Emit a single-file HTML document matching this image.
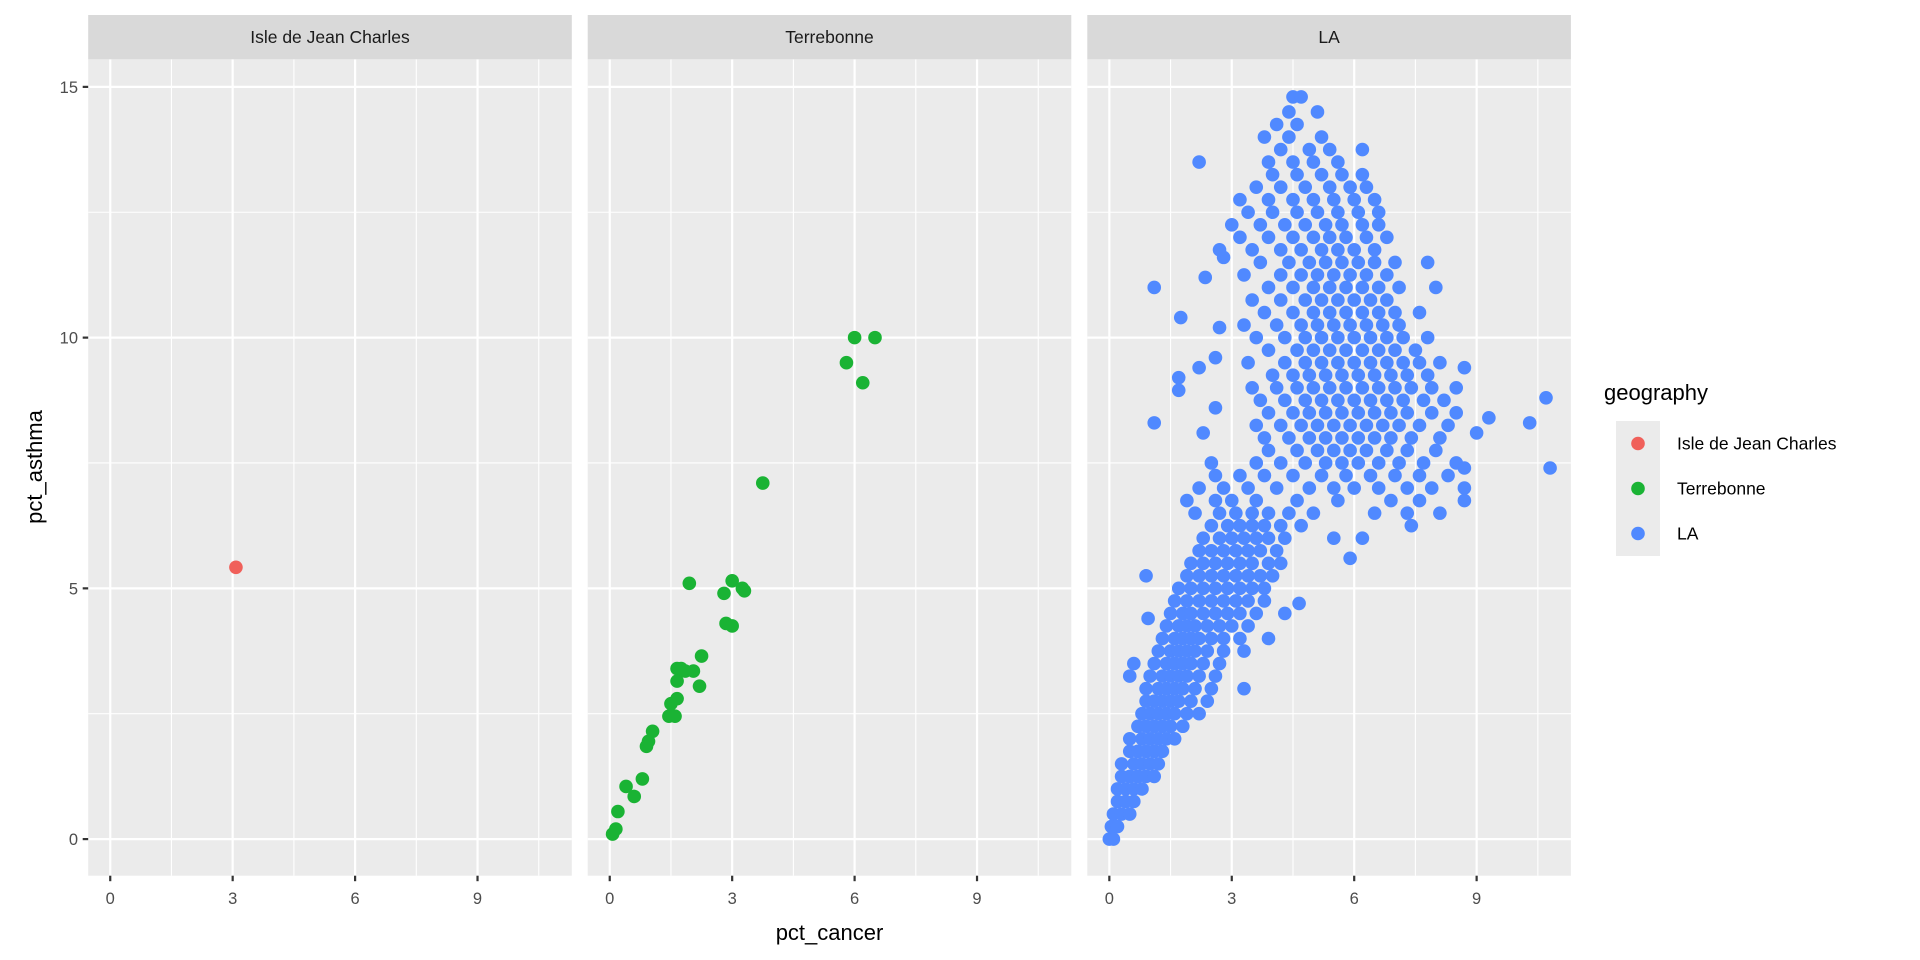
<!DOCTYPE html>
<html><head><meta charset="utf-8"><style>
body{margin:0;background:#fff;}
svg{display:block;font-family:"Liberation Sans",Arial,sans-serif;}
</style></head><body>
<svg id="chart" width="1920" height="960" viewBox="0 0 1920 960" xmlns="http://www.w3.org/2000/svg"></svg>
<script>
const facetNames = ["Isle de Jean Charles","Terrebonne","LA"];
const facetColors = ["#F0605A","#1AB334","#5089FF"];
const xTicks = [0,3,6,9];
const yTicks = [0,5,10,15];
const xMinor = [1.5,4.5,7.5,10.5];
const yMinor = [2.5,7.5,12.5];
const isleX = [3.08];
const isleY = [5.42];
const terreX = [0.07,0.15,0.2,0.4,0.6,0.8,0.9,0.95,1.05,1.45,1.5,1.6,1.65,1.65,1.65,1.75,1.85,2.05,2.2,2.25,1.95,2.8,2.85,3.0,3.0,3.25,3.3,3.75,5.8,6.0,6.2,6.5];
const terreY = [0.1,0.2,0.55,1.05,0.85,1.2,1.85,1.95,2.15,2.45,2.7,2.45,2.8,3.15,3.4,3.4,3.35,3.35,3.05,3.65,5.1,4.9,4.3,5.15,4.25,5.0,4.95,7.1,9.5,10.0,9.1,10.0];
// LA rows: [y, [x values]]
const laRows = [
[0,[0.0,0.1]],[0.25,[0.05,0.2]],[0.5,[0.1,0.3,0.5]],[0.75,[0.2,0.4,0.6]],[1.0,[0.2,0.4,0.6,0.8]],
[1.25,[0.3,0.5,0.7,0.9,1.1]],[1.5,[0.3,0.6,0.8,1.0,1.2]],[1.75,[0.5,0.7,0.9,1.1,1.3]],
[2.0,[0.5,0.8,1.0,1.2,1.4,1.6]],[2.25,[0.7,0.9,1.1,1.3,1.5,1.8]],[2.5,[0.8,1.0,1.2,1.4,1.6,1.9,2.2]],
[2.75,[0.9,1.1,1.3,1.5,1.7,2.0,2.4]],[3.0,[0.9,1.2,1.4,1.6,1.8,2.1,2.5,3.3]],[3.25,[0.5,1.0,1.3,1.5,1.7,1.9,2.2,2.6]],
[3.5,[0.6,1.1,1.4,1.6,1.8,2.0,2.3,2.7]],[3.75,[1.2,1.5,1.7,1.9,2.1,2.4,2.8,3.3]],[4.0,[1.3,1.6,1.8,2.0,2.2,2.5,2.8,3.2,3.9]],
[4.25,[1.4,1.7,1.9,2.1,2.4,2.7,3.0,3.4]],[4.4,[0.95]],[4.5,[1.5,1.8,2.0,2.3,2.6,2.9,3.2,3.6,4.3]],[4.7,[4.65]],
[4.75,[1.6,1.9,2.2,2.5,2.8,3.1,3.4,3.8]],[5.0,[1.7,2.0,2.3,2.6,2.9,3.2,3.5,3.8]],[5.25,[0.9,1.9,2.2,2.5,2.8,3.1,3.4,3.7,4.0]],
[5.5,[2.0,2.3,2.6,2.9,3.2,3.5,3.9,4.2]],[5.6,[5.9]],[5.75,[2.2,2.5,2.8,3.1,3.4,3.7,4.1]],[6.0,[2.3,2.7,3.0,3.3,3.6,3.9,4.3,5.5,6.2]],
[6.25,[2.5,2.9,3.2,3.5,3.8,4.2,4.7,7.4]],[6.5,[2.1,2.7,3.1,3.5,3.9,4.4,5.0,6.5,7.3,8.1]],[6.75,[1.9,2.6,3.0,3.6,4.6,5.6,6.9,7.6,8.7]],
[7.0,[2.2,2.8,3.4,4.1,4.9,5.5,6.0,6.6,7.3,7.9,8.7]],[7.25,[2.6,3.2,3.8,4.5,5.2,5.8,6.4,7.0,7.6,8.3]],
[7.5,[2.5,3.6,4.2,4.8,5.3,5.7,6.1,6.6,7.1,7.7,8.5]],[7.4,[8.7,10.8]],[7.75,[3.9,4.6,5.1,5.5,5.9,6.3,6.8,7.3,8.0]],
[8.0,[3.8,4.4,4.9,5.3,5.7,6.1,6.5,6.9,7.4,8.1]],[8.1,[2.3,9.0]],[8.25,[3.6,4.2,4.7,5.1,5.5,5.9,6.3,6.7,7.1,7.6,8.3]],[8.3,[1.1,10.3]],
[8.4,[9.3]],[8.5,[3.9,4.5,4.9,5.3,5.7,6.1,6.5,6.9,7.3,7.9,8.5]],[8.6,[2.6]],[8.75,[3.7,4.3,4.8,5.2,5.6,6.0,6.4,6.8,7.2,7.7,8.2]],[8.8,[10.7]],
[8.95,[1.7]],[9.0,[3.5,4.1,4.6,5.0,5.4,5.8,6.2,6.6,7.0,7.4,7.9,8.5]],[9.2,[1.7]],[9.25,[4.0,4.5,4.9,5.3,5.7,6.1,6.5,6.9,7.3,7.8]],
[9.4,[2.2,8.7]],[9.5,[3.4,4.3,4.8,5.2,5.6,6.0,6.4,6.8,7.2,7.6,8.1]],[9.6,[2.6]],[9.75,[3.9,4.6,5.0,5.4,5.8,6.2,6.6,7.0,7.5]],
[10.0,[3.6,4.3,4.8,5.2,5.6,6.0,6.4,6.8,7.2,7.8]],[10.2,[2.7]],[10.25,[3.3,4.1,4.7,5.1,5.5,5.9,6.3,6.7,7.1]],[10.4,[1.75]],
[10.5,[3.8,4.5,5.0,5.4,5.8,6.2,6.6,7.0,7.6]],[10.75,[3.5,4.2,4.8,5.2,5.6,6.0,6.4,6.8]],[11.0,[1.1,3.9,4.5,5.0,5.4,5.8,6.2,6.6,7.1,8.0]],
[11.2,[2.35]],[11.25,[3.3,4.2,4.7,5.1,5.5,5.9,6.3,6.8]],[11.5,[3.7,4.4,4.9,5.3,5.7,6.1,6.5,7.0,7.8]],[11.6,[2.8]],
[11.75,[2.7,3.5,4.2,4.7,5.2,5.6,6.0,6.5]],[12.0,[3.2,3.9,4.5,5.0,5.4,5.8,6.3,6.8]],[12.25,[3.0,3.7,4.3,4.8,5.3,5.7,6.2,6.6]],
[12.5,[3.4,4.0,4.6,5.1,5.6,6.1,6.6]],[12.75,[3.2,3.9,4.5,5.0,5.5,6.0,6.5]],[13.0,[3.6,4.2,4.8,5.4,5.9,6.3]],
[13.25,[4.0,4.6,5.2,5.7,6.2]],[13.5,[2.2,3.9,4.5,5.0,5.6]],[13.75,[4.2,4.9,5.4,6.2]],[14.0,[3.8,4.4,5.2]],
[14.25,[4.1,4.6]],[14.5,[4.4,5.1]],[14.8,[4.5,4.7]]
];

const NS="http://www.w3.org/2000/svg";
const svg=document.getElementById('chart');
function mk(tag,attrs,parent){const e=document.createElementNS(NS,tag);for(const k in attrs)e.setAttribute(k,attrs[k]);(parent||svg).appendChild(e);return e;}
const panelLeft=[88.2,587.7,1087.3], panelW=483.6, pTop=59.3, pBot=875.7, stripTop=15;
const xDom=[-0.54,11.31], yDom=[-0.73,15.55];
const R=6.8;
function xs(p,v){return panelLeft[p]+(v-xDom[0])/(xDom[1]-xDom[0])*panelW;}
function ys(v){return pBot-(v-yDom[0])/(yDom[1]-yDom[0])*(pBot-pTop);}

facetNames.forEach((name,p)=>{
  const g=mk('g',{});
  
  
  const bg=mk('rect',{x:panelLeft[p],y:pTop,width:panelW,height:pBot-pTop,fill:'#EBEBEB'},g);
  
  
  xMinor.forEach(v=>{const l=mk('line',{x1:xs(p,v),x2:xs(p,v),y1:pTop,y2:pBot,stroke:'#fff','stroke-width':1.1},g);});
  yMinor.forEach(v=>{const l=mk('line',{x1:panelLeft[p],x2:panelLeft[p]+panelW,y1:ys(v),y2:ys(v),stroke:'#fff','stroke-width':1.1},g);});
  xTicks.forEach(v=>{const l=mk('line',{x1:xs(p,v),x2:xs(p,v),y1:pTop,y2:pBot,stroke:'#fff','stroke-width':2.2},g);
    const t=mk('line',{x1:xs(p,v),x2:xs(p,v),y1:pBot,y2:pBot+5.5,stroke:'#333','stroke-width':2.2},g);
    const tx=mk('text',{x:xs(p,v),y:904,'text-anchor':'middle','font-size':16.5,fill:'#4D4D4D'},g);tx.textContent=v;});
  yTicks.forEach(v=>{const l=mk('line',{x1:panelLeft[p],x2:panelLeft[p]+panelW,y1:ys(v),y2:ys(v),stroke:'#fff','stroke-width':2.2},g);});
  const st=mk('rect',{x:panelLeft[p],y:stripTop,width:panelW,height:pTop-stripTop,fill:'#D9D9D9'},g);
  
  
  const stt=mk('text',{x:panelLeft[p]+panelW/2,y:43,'text-anchor':'middle','font-size':17.5,fill:'#1A1A1A'},g);
  stt.textContent=name;
  
  
});
yTicks.forEach(v=>{
  const t=mk('line',{x1:panelLeft[0]-5.5,x2:panelLeft[0],y1:ys(v),y2:ys(v),stroke:'#333','stroke-width':2.2});
  
  
  const tx=mk('text',{x:78,y:ys(v)+6,'text-anchor':'end','font-size':16.5,fill:'#4D4D4D'});
  tx.textContent=v;
  
  
});
function dot(p,x,y,col){
  const c=mk('circle',{cx:xs(p,x),cy:ys(y),r:R,fill:col});
  
  
}
isleX.forEach((x,i)=>dot(0,x,isleY[i],facetColors[0]));
terreX.forEach((x,i)=>dot(1,x,terreY[i],facetColors[1]));
laRows.forEach(r=>r[1].forEach(x=>dot(2,x,r[0],facetColors[2])));

const xt=mk('text',{x:829.5,y:940,'text-anchor':'middle','font-size':22,fill:'#000'});
xt.textContent='pct_cancer';


const yt=mk('text',{x:42,y:467,'text-anchor':'middle','font-size':22,fill:'#000',transform:'rotate(-90 42 467)'});
yt.textContent='pct_asthma';



const lt=mk('text',{x:1604,y:400,'font-size':22,fill:'#000'});
lt.textContent='geography';


facetNames.forEach((n,i)=>{
  const ky=421+i*45;
  const k=mk('rect',{x:1616,y:ky,width:44,height:45,fill:'#EBEBEB'});
  
  
  const c=mk('circle',{cx:1638,cy:ky+22.5,r:R,fill:facetColors[i]});
  
  
  const t=mk('text',{x:1677,y:ky+28.5,'font-size':17.5,fill:'#000'});
  t.textContent=n;
  
  
});
</script>
</body></html>
